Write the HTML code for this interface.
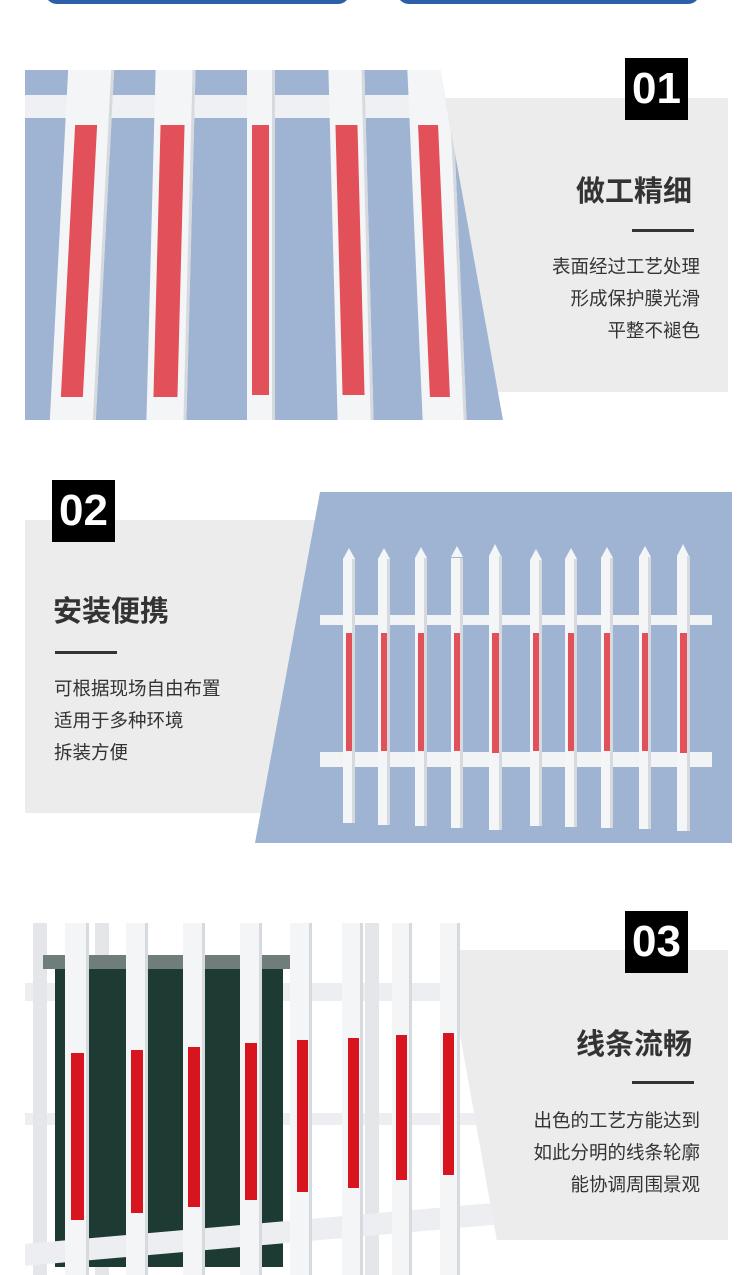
<!DOCTYPE html>
<html><head><meta charset="utf-8"><style>
*{margin:0;padding:0;box-sizing:border-box}
body{width:750px;height:1275px;position:relative;overflow:hidden;background:#fff;font-family:"Liberation Sans","Noto Sans CJK SC",sans-serif}
.a{position:absolute}
.panel{position:absolute;background:#ececec}
.num{position:absolute;background:#000;color:#fff;font-weight:bold;font-size:44px;text-align:center;line-height:62px;width:63px;height:62px}
.title{position:absolute;font-size:29px;font-weight:bold;color:#333;white-space:nowrap}
.line{position:absolute;height:3px;background:#333;width:62px}
.txt{position:absolute;font-size:18.5px;color:#333;line-height:32px;white-space:nowrap}
.post{position:absolute;background:#f4f5f7;box-shadow:inset -3px 0 0 #d6d9de}
.red{position:absolute;background:#e2505a}
.red3{position:absolute;background:#d8141e}
</style></head><body>
<div class="a" style="left:45px;top:-20px;width:305px;height:24px;border-radius:12px;background:#2d5fa8"></div>
<div class="a" style="left:397px;top:-20px;width:303px;height:24px;border-radius:12px;background:#2d5fa8"></div>

<!-- Section 1 -->
<div class="panel" style="left:400px;top:98px;width:328px;height:294px"></div>
<div class="a" style="left:25px;top:70px;width:478px;height:350px;background:#9fb3d3;clip-path:polygon(0 0,415px 0,478px 350px,0 350px)">
  <div class="a" style="left:0;top:25px;width:478px;height:23px;background:#eef0f3"></div>
  <div class="post" style="left:34px;top:0;width:46px;height:350px;transform:skewX(-3deg)"></div>
  <div class="red" style="left:43px;top:55px;width:22px;height:272px;transform:skewX(-3deg)"></div>
  <div class="post" style="left:126px;top:0;width:40px;height:350px;transform:skewX(-1.5deg)"></div>
  <div class="red" style="left:132px;top:55px;width:24px;height:272px;transform:skewX(-1.5deg)"></div>
  <div class="post" style="left:222px;top:0;width:28px;height:350px"></div>
  <div class="red" style="left:227px;top:55px;width:17px;height:270px"></div>
  <div class="post" style="left:308px;top:0;width:36px;height:350px;transform:skewX(1.5deg)"></div>
  <div class="red" style="left:314px;top:55px;width:22px;height:270px;transform:skewX(1.5deg)"></div>
  <div class="post" style="left:390px;top:0;width:44px;height:350px;transform:skewX(2.5deg)"></div>
  <div class="red" style="left:399px;top:55px;width:20px;height:272px;transform:skewX(2.5deg)"></div>
</div>
<div class="num" style="left:625px;top:58px">01</div>
<div class="title" style="right:58px;top:168px">做工精细</div>
<div class="line" style="left:632px;top:229px"></div>
<div class="txt" style="right:50px;top:251px;text-align:right">表面经过工艺处理<br>形成保护膜光滑<br>平整不褪色</div>

<!-- Section 2 -->
<div class="panel" style="left:25px;top:520px;width:310px;height:293px"></div>
<div class="a" style="left:255px;top:492px;width:477px;height:351px;background:#9fb3d3;clip-path:polygon(65px 0,477px 0,477px 351px,0 351px)">
  <div class="a" style="left:65px;top:123px;width:392px;height:10px;background:#f2f3f5"></div>
  <div class="a" style="left:65px;top:260px;width:392px;height:15px;background:#f2f3f5"></div>
</div>
<div class="num" style="left:52px;top:480px">02</div>
<div class="title" style="left:53px;top:588px">安装便携</div>
<div class="line" style="left:55px;top:651px"></div>
<div class="txt" style="left:54px;top:673px">可根据现场自由布置<br>适用于多种环境<br>拆装方便</div>

<!-- Section 3 -->
<div class="panel" style="left:430px;top:950px;width:298px;height:290px"></div>
<div class="a" style="left:25px;top:923px;width:478px;height:352px;background:#fff;clip-path:polygon(0 0,415px 0,478px 352px,0 352px)">
  <div class="a" style="left:0;top:60px;width:478px;height:18px;background:#eceef2"></div>
  <div class="a" style="left:0;top:190px;width:478px;height:12px;background:#eceef2"></div>
  <div class="a" style="left:8px;top:0;width:14px;height:352px;background:#e4e6ea"></div>
  <div class="a" style="left:70px;top:0;width:14px;height:352px;background:#e4e6ea"></div>
  <div class="a" style="left:340px;top:0;width:14px;height:352px;background:#e4e6ea"></div>
  <div class="a" style="left:30px;top:32px;width:228px;height:312px;background:#1d3a33"></div>
  <div class="a" style="left:18px;top:32px;width:250px;height:14px;background:#6f7e7b"></div>
  <div class="a" style="left:0;top:300px;width:478px;height:22px;background:#eceef2;transform:skewY(-5deg)"></div>
</div>
<div class="num" style="left:625px;top:911px">03</div>
<div class="title" style="right:58px;top:1021px">线条流畅</div>
<div class="line" style="left:632px;top:1081px"></div>
<div class="txt" style="right:50px;top:1105px;text-align:right">出色的工艺方能达到<br>如此分明的线条轮廓<br>能协调周围景观</div>

<!-- Section 2 posts -->
<div class="post" style="left:343px;top:558px;width:12px;height:265px"></div><div class="a" style="left:343px;top:548px;border-left:6px solid transparent;border-right:6px solid transparent;border-bottom:11px solid #f4f5f7"></div><div class="red" style="left:346px;top:633px;width:6px;height:118px"></div>
<div class="post" style="left:378px;top:558px;width:12px;height:267px"></div><div class="a" style="left:378px;top:548px;border-left:6px solid transparent;border-right:6px solid transparent;border-bottom:11px solid #f4f5f7"></div><div class="red" style="left:381px;top:633px;width:6px;height:118px"></div>
<div class="post" style="left:415px;top:558px;width:12px;height:268px"></div><div class="a" style="left:415px;top:547px;border-left:6px solid transparent;border-right:6px solid transparent;border-bottom:11px solid #f4f5f7"></div><div class="red" style="left:418px;top:633px;width:6px;height:118px"></div>
<div class="post" style="left:451px;top:558px;width:12px;height:270px"></div><div class="a" style="left:451px;top:546px;border-left:6px solid transparent;border-right:6px solid transparent;border-bottom:11px solid #f4f5f7"></div><div class="red" style="left:454px;top:633px;width:6px;height:118px"></div>
<div class="post" style="left:489px;top:556px;width:13px;height:274px"></div><div class="a" style="left:489px;top:544px;border-left:6.5px solid transparent;border-right:6.5px solid transparent;border-bottom:12px solid #f4f5f7"></div><div class="red" style="left:492px;top:633px;width:7px;height:120px"></div>
<div class="post" style="left:530px;top:560px;width:12px;height:266px"></div><div class="a" style="left:530px;top:549px;border-left:6px solid transparent;border-right:6px solid transparent;border-bottom:11px solid #f4f5f7"></div><div class="red" style="left:533px;top:633px;width:6px;height:118px"></div>
<div class="post" style="left:565px;top:559px;width:12px;height:268px"></div><div class="a" style="left:565px;top:548px;border-left:6px solid transparent;border-right:6px solid transparent;border-bottom:11px solid #f4f5f7"></div><div class="red" style="left:568px;top:633px;width:6px;height:118px"></div>
<div class="post" style="left:601px;top:558px;width:12px;height:270px"></div><div class="a" style="left:601px;top:547px;border-left:6px solid transparent;border-right:6px solid transparent;border-bottom:11px solid #f4f5f7"></div><div class="red" style="left:604px;top:633px;width:6px;height:118px"></div>
<div class="post" style="left:639px;top:557px;width:12px;height:272px"></div><div class="a" style="left:639px;top:546px;border-left:6px solid transparent;border-right:6px solid transparent;border-bottom:11px solid #f4f5f7"></div><div class="red" style="left:642px;top:633px;width:6px;height:118px"></div>
<div class="post" style="left:677px;top:556px;width:13px;height:275px"></div><div class="a" style="left:677px;top:544px;border-left:6.5px solid transparent;border-right:6.5px solid transparent;border-bottom:12px solid #f4f5f7"></div><div class="red" style="left:680px;top:633px;width:7px;height:120px"></div>

<!-- Section 3 front posts -->
<div class="post" style="left:65px;top:923px;width:24px;height:352px"></div><div class="red3" style="left:71px;top:1053px;width:13px;height:167px"></div>
<div class="post" style="left:126px;top:923px;width:22px;height:352px"></div><div class="red3" style="left:131px;top:1050px;width:12px;height:163px"></div>
<div class="post" style="left:183px;top:923px;width:22px;height:352px"></div><div class="red3" style="left:188px;top:1047px;width:12px;height:160px"></div>
<div class="post" style="left:240px;top:923px;width:22px;height:352px"></div><div class="red3" style="left:245px;top:1043px;width:12px;height:157px"></div>
<div class="post" style="left:290px;top:923px;width:22px;height:352px"></div><div class="red3" style="left:297px;top:1040px;width:11px;height:152px"></div>
<div class="post" style="left:342px;top:923px;width:21px;height:352px"></div><div class="red3" style="left:348px;top:1038px;width:11px;height:150px"></div>
<div class="post" style="left:392px;top:923px;width:20px;height:352px"></div><div class="red3" style="left:396px;top:1035px;width:11px;height:145px"></div>
<div class="post" style="left:440px;top:923px;width:20px;height:352px"></div><div class="red3" style="left:443px;top:1033px;width:11px;height:142px"></div>
</body></html>
